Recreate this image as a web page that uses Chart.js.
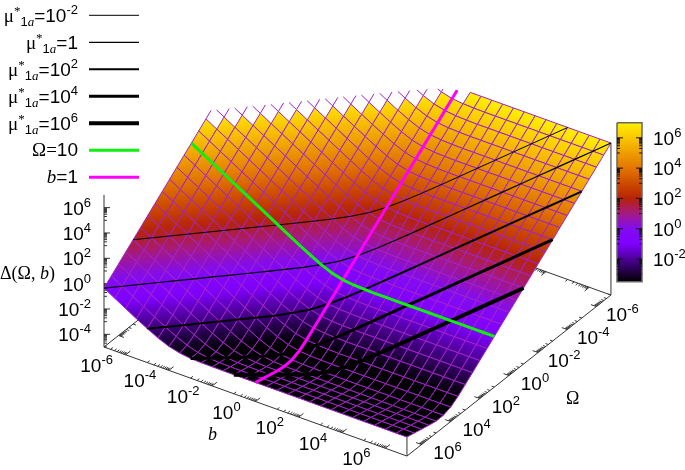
<!DOCTYPE html>
<html>
<head>
<meta charset="utf-8">
<title>Delta surface</title>
<script src="https://cdn.jsdelivr.net/npm/chart.js@4"></script>
<style>
  html, body { margin: 0; background: #fff; }
  canvas { display: block; }
</style>
</head>
<body>
<canvas id="surface" width="685" height="470"></canvas>
<script>
//DATA, everything in log10
const bGrid = [-7,-6.5,-6,-5.5,-5,-4.5,-4,-3.5,-3,-2.5,-2,-1.5,-1,-0.5,0,0.5,1,1.5,2,2.5,3,3.5,4,4.5,5,5.5,6,6.5,7];
const omegaGrid = [-7,-6.5,-6,-5.5,-5,-4.5,-4,-3.5,-3,-2.5,-2,-1.5,-1,-0.5,0,0.5,1,1.5,2,2.5,3,3.5,4,4.5,5,5.5,6,6.5,7];
const _ = null; // above the top of the z range
// one row per b, one column per omega
const flatRow = [7,6.5,6,5.5,5,4.5,4,3.5,3,2.5,2,1.5,1,.5,0,-.5,-1,-1.5,-2,-2.5,-2.99,-3.47,-3.86,-4.05,-4.06,-3.93,-3.79,-3.64,-3.5];
const deltaRows = [
  [_,_,_,_,_,_,_,_,_,_,_,_,_,7.15,6.65,6.15,5.65,5.15,4.65,4.15,3.65,3.15,2.65,2.15,1.65,1.15,.65,.15,-.35],
  [_,_,_,_,_,_,_,_,_,_,_,_,7.15,6.65,6.15,5.65,5.15,4.65,4.15,3.65,3.15,2.65,2.15,1.65,1.15,.65,.15,-.35,-.85],
  [_,_,_,_,_,_,_,_,_,_,_,7.15,6.65,6.15,5.65,5.15,4.65,4.15,3.65,3.15,2.65,2.15,1.65,1.15,.65,.15,-.35,-.85,-1.35],
  [_,_,_,_,_,_,_,_,_,_,7.15,6.65,6.15,5.65,5.15,4.65,4.15,3.65,3.15,2.65,2.15,1.65,1.15,.65,.15,-.35,-.85,-1.35,-1.85],
  [_,_,_,_,_,_,_,_,_,7.15,6.65,6.15,5.65,5.15,4.65,4.15,3.65,3.15,2.65,2.15,1.65,1.15,.65,.15,-.35,-.85,-1.35,-1.85,-2.32],
  [_,_,_,_,_,_,_,_,7.15,6.65,6.15,5.65,5.15,4.65,4.15,3.65,3.15,2.65,2.15,1.65,1.15,.65,.15,-.35,-.85,-1.35,-1.85,-2.33,-2.76],
  [_,_,_,_,_,_,_,7.15,6.65,6.15,5.65,5.15,4.65,4.15,3.65,3.15,2.65,2.15,1.65,1.15,.65,.15,-.35,-.85,-1.35,-1.85,-2.34,-2.79,-3.11],
  [_,_,_,_,_,_,7.15,6.65,6.15,5.65,5.15,4.65,4.15,3.65,3.15,2.65,2.15,1.65,1.15,.65,.15,-.35,-.85,-1.35,-1.85,-2.34,-2.8,-3.16,-3.33],
  [_,_,_,_,_,7.15,6.65,6.15,5.65,5.15,4.65,4.15,3.65,3.15,2.65,2.15,1.65,1.15,.65,.15,-.35,-.85,-1.35,-1.85,-2.34,-2.82,-3.22,-3.43,-3.45],
  [_,_,_,_,7.15,6.65,6.15,5.65,5.15,4.65,4.15,3.65,3.15,2.65,2.15,1.65,1.15,.65,.15,-.35,-.85,-1.35,-1.85,-2.34,-2.83,-3.25,-3.52,-3.57,-3.48],
  [_,_,_,7.16,6.66,6.16,5.66,5.16,4.66,4.16,3.66,3.16,2.66,2.16,1.66,1.16,.66,.16,-.34,-.84,-1.34,-1.84,-2.34,-2.82,-3.27,-3.58,-3.69,-3.62,-3.49],
  [_,_,7.18,6.68,6.18,5.68,5.18,4.68,4.18,3.68,3.18,2.68,2.18,1.68,1.18,.68,.18,-.32,-.82,-1.32,-1.82,-2.32,-2.81,-3.27,-3.62,-3.79,-3.76,-3.64,-3.5],
  [_,7.24,6.74,6.24,5.74,5.24,4.74,4.24,3.74,3.24,2.74,2.24,1.74,1.24,.74,.24,-.26,-.76,-1.26,-1.76,-2.26,-2.76,-3.23,-3.64,-3.86,-3.89,-3.78,-3.64,-3.5],
  [7.38,6.88,6.38,5.88,5.38,4.88,4.38,3.88,3.38,2.88,2.38,1.88,1.38,.88,.38,-.12,-.62,-1.12,-1.62,-2.12,-2.62,-3.11,-3.55,-3.87,-3.99,-3.92,-3.79,-3.64,-3.5],
  [7.16,6.66,6.16,5.66,5.16,4.66,4.16,3.66,3.16,2.66,2.16,1.66,1.16,.66,.16,-.34,-.84,-1.34,-1.84,-2.34,-2.83,-3.31,-3.74,-3.98,-4.03,-3.93,-3.79,-3.64,-3.5],
  [7,6.56,6.06,5.56,5.06,4.56,4.06,3.56,3.06,2.56,2.06,1.56,1.06,.56,.06,-.44,-.94,-1.44,-1.94,-2.44,-2.93,-3.41,-3.81,-4.03,-4.05,-3.93,-3.79,-3.64,-3.5],
  [7,6.52,6.02,5.52,5.02,4.52,4.02,3.52,3.02,2.52,2.02,1.52,1.02,.52,.02,-.48,-.98,-1.48,-1.98,-2.48,-2.97,-3.45,-3.84,-4.04,-4.05,-3.93,-3.79,-3.64,-3.5],
  flatRow, flatRow, flatRow, flatRow, flatRow, flatRow, flatRow, flatRow, flatRow, flatRow, flatRow, flatRow
];
const muExponents = [-2, 0, 2, 4, 6]; // omega * b = mu, so omega + b in log10
const muWidths = [1, 1.2, 2, 3, 4];
const omegaCut = 1;
const bCut = 0;
const bTicks = [-6, -4, -2, 0, 2, 4, 6];
const omegaTicks = [-6, -4, -2, 0, 2, 4, 6];
const zTicks = [-4, -2, 0, 2, 4, 6];
const cbTicks = [-2, 0, 2, 4, 6];
const minorFractions = [0.1, 0.2, 0.3, 0.4, 0.5, 0.6, 0.7, 0.8, 0.9];
const paletteZ = [-3.5, -1, 0, 1, 2, 3, 4, 6, 7];
const paletteRGB = [[0,0,0],[128,0,255],[130,12,240],[165,25,130],[182,35,8],[205,75,0],[226,118,0],[250,198,0],[255,240,0]];

const zMin = -5, zMax = 7, rangeLo = -7, rangeHi = 7;
const meshColor = '#a020c8';
const axisColor = '#333333';
const SANS = '"Liberation Sans"', SERIF = '"Liberation Serif"';

//PROJECTION, view of the 3d box onto the page
function project(b, omega, z) {
  const db = b - rangeLo, dw = rangeHi - omega, dz = z - zMin;
  return { x: 104 + db * 21.64 + dw * 14.57, y: 347 + db * 7.79 - dw * 11.5 - dz * 12.67 };
}
const GAP = { x: NaN, y: NaN };

function paletteColor(z) {
  if (z <= paletteZ[0]) return 'rgb(0,0,0)';
  let k = 1;
  while (k < paletteZ.length - 1 && z > paletteZ[k]) k++;
  const t = Math.min(1, (z - paletteZ[k - 1]) / (paletteZ[k] - paletteZ[k - 1]));
  const c = paletteRGB[k - 1].map((v, n) => Math.round(v + (paletteRGB[k][n] - v) * t));
  return 'rgb(' + c.join(',') + ')';
}

const ctx = document.getElementById('surface').getContext('2d');
const marks = []; // back to front

function lineMark(data, color, width) {
  marks.push({ data: data, showLine: true, fill: false, borderColor: color, borderWidth: width, pointRadius: 0, spanGaps: false, borderJoinStyle: 'round' });
}

//AXES of the box
function boxAxes() {
  const corner = (b, w, z) => project(b, w, z);
  lineMark([corner(-7, 7, -5), corner(7, 7, -5), corner(7, -7, -5), corner(-7, -7, -5), corner(-7, 7, -5)], axisColor, 1);
  lineMark([corner(-7, 7, -5), corner(-7, 7, 7), GAP, corner(7, -7, -5), corner(7, -7, 7), GAP, corner(7, 7, -5), corner(7, 7, -3.5)], axisColor, 1);

  const ticks = [];
  function addTicks(list, at, lenMajor) {
    list.forEach(function (m) {
      [1].concat(minorFractions).forEach(function (f, n) {
        const v = m + Math.log10(f);
        at(v, n === 0 ? lenMajor : lenMajor / 2);
      });
    });
  }
  addTicks(bTicks, function (v, len) {
    if (v < rangeLo) return;
    ticks.push(project(v, 7, -5), project(v, 7 - len, -5), GAP);
    ticks.push(project(v, -7, -5), project(v, -7 + len, -5), GAP);
  }, 0.32);
  addTicks(omegaTicks, function (v, len) {
    if (v < rangeLo) return;
    ticks.push(project(7, v, -5), project(7 - len, v, -5), GAP);
    ticks.push(project(-7, v, -5), project(-7 + len, v, -5), GAP);
  }, 0.25);
  addTicks(zTicks, function (v, len) {
    const p = project(-7, 7, v);
    ticks.push(p, { x: p.x + len * 20, y: p.y }, GAP);
  }, 0.3);
  lineMark(ticks, axisColor, 1);
}

//SURFACE
function cellGradient(p, z) {
  // z is close to a plane inside one cell, so fill along its steepest direction
  const e1 = { x: (p[1].x + p[2].x - p[0].x - p[3].x) / 2, y: (p[1].y + p[2].y - p[0].y - p[3].y) / 2 };
  const e2 = { x: (p[3].x + p[2].x - p[0].x - p[1].x) / 2, y: (p[3].y + p[2].y - p[0].y - p[1].y) / 2 };
  const d1 = (z[1] + z[2] - z[0] - z[3]) / 2, d2 = (z[3] + z[2] - z[0] - z[1]) / 2;
  const det = e1.x * e2.y - e1.y * e2.x;
  const gx = (d1 * e2.y - d2 * e1.y) / det, gy = (e1.x * d2 - e2.x * d1) / det;
  const g2 = gx * gx + gy * gy;
  const zc = (z[0] + z[1] + z[2] + z[3]) / 4;
  if (g2 < 1e-9) return paletteColor(zc);
  const cx = (p[0].x + p[1].x + p[2].x + p[3].x) / 4, cy = (p[0].y + p[1].y + p[2].y + p[3].y) / 4;
  const grad = ctx.createLinearGradient(cx - gx / g2, cy - gy / g2, cx + gx / g2, cy + gy / g2);
  for (let s = 0; s <= 8; s++) grad.addColorStop(s / 8, paletteColor(zc - 1 + s / 4));
  return grad;
}

function surfaceMarks() {
  // mesh lines that run out through the top of the box stop at zMax
  const ears = [];
  function ear(b1, w1, z1, b2, w2, z2) {
    if (z1 === null || z2 === null) return;
    if ((z1 > zMax) === (z2 > zMax)) return;
    const t = (zMax - z1) / (z2 - z1);
    const inside = z1 <= zMax ? project(b1, w1, z1) : project(b2, w2, z2);
    ears.push(inside, project(b1 + (b2 - b1) * t, w1 + (w2 - w1) * t, zMax), GAP);
  }
  bGrid.forEach(function (b, i) {
    omegaGrid.forEach(function (w, j) {
      const z = deltaRows[i][j];
      if (i + 1 < bGrid.length) ear(b, w, z, bGrid[i + 1], w, deltaRows[i + 1][j]);
      if (j + 1 < omegaGrid.length) ear(b, w, z, b, omegaGrid[j + 1], deltaRows[i][j + 1]);
    });
  });
  lineMark(ears, meshColor, 1);

  // only cells with all corners inside the range get painted
  for (let i = 0; i + 1 < bGrid.length; i++) {
    for (let j = 0; j + 1 < omegaGrid.length; j++) {
      const z = [deltaRows[i][j], deltaRows[i + 1][j], deltaRows[i + 1][j + 1], deltaRows[i][j + 1]];
      if (z.some(v => v === null || v > zMax)) continue;
      const p = [project(bGrid[i], omegaGrid[j], z[0]), project(bGrid[i + 1], omegaGrid[j], z[1]),
                 project(bGrid[i + 1], omegaGrid[j + 1], z[2]), project(bGrid[i], omegaGrid[j + 1], z[3])];
      marks.push({ data: p.concat([p[0]]), showLine: true, fill: 'shape', backgroundColor: cellGradient(p, z),
                   borderColor: meshColor, borderWidth: 1, pointRadius: 0 });
    }
  }
}

//CURVES on the surface
function clippedCurve(nodes) {
  const out = [];
  nodes.forEach(function (n, k) {
    if (n.z === null) return;
    const prev = nodes[k - 1];
    if (n.z <= zMax) {
      if (prev && prev.z !== null && prev.z > zMax) {
        const t = (zMax - n.z) / (prev.z - n.z);
        out.push(project(n.b + (prev.b - n.b) * t, n.w + (prev.w - n.w) * t, zMax));
      }
      out.push(project(n.b, n.w, n.z));
    }
  });
  return out;
}

function curveMarks() {
  muExponents.forEach(function (mu, k) {
    const nodes = [];
    bGrid.forEach(function (b, i) {
      const j = omegaGrid.indexOf(mu - b);
      if (j >= 0) nodes.push({ b: b, w: omegaGrid[j], z: deltaRows[i][j] });
    });
    lineMark(clippedCurve(nodes), '#000000', muWidths[k]);
  });
  const iCut = bGrid.indexOf(bCut), jCut = omegaGrid.indexOf(omegaCut);
  lineMark(clippedCurve(omegaGrid.map((w, j) => ({ b: bCut, w: w, z: deltaRows[iCut][j] }))), '#ff00ff', 3);
  lineMark(clippedCurve(bGrid.map((b, i) => ({ b: b, w: omegaCut, z: deltaRows[i][jCut] }))), '#11ee11', 3);
}

//COLORBAR
const cb = { left: 617, right: 642, top: 122.7, bottom: 281.7, lo: -3.5, hi: 7 };
const cbY = z => cb.bottom - (z - cb.lo) / (cb.hi - cb.lo) * (cb.bottom - cb.top);

function colorbarMarks() {
  const grad = ctx.createLinearGradient(0, cb.bottom, 0, cb.top);
  for (let s = 0; s <= 42; s++) grad.addColorStop(s / 42, paletteColor(cb.lo + s * 0.25));
  marks.push({ data: [{ x: cb.left, y: cb.top }, { x: cb.right, y: cb.top }, { x: cb.right, y: cb.bottom }, { x: cb.left, y: cb.bottom }, { x: cb.left, y: cb.top }],
               showLine: true, fill: 'shape', backgroundColor: grad, borderColor: '#666666', borderWidth: 1.5, pointRadius: 0 });
  const ticks = [];
  cbTicks.forEach(function (m) {
    [1].concat(minorFractions).forEach(function (f, n) {
      const y = cbY(m + Math.log10(f));
      const len = n === 0 ? 6 : 3;
      ticks.push({ x: cb.left, y: y }, { x: cb.left + len, y: y }, GAP, { x: cb.right, y: y }, { x: cb.right - len, y: y }, GAP);
    });
  });
  lineMark(ticks, '#111111', 1);
}

//LEGEND samples
const legendRows = [15.3, 42.3, 69.3, 96.3, 123.3, 150.3, 177.3];
function legendMarks() {
  const sample = y => [{ x: 89, y: y }, { x: 139, y: y }];
  muExponents.forEach((mu, k) => lineMark(sample(legendRows[k]), '#000000', muWidths[k]));
  lineMark(sample(legendRows[5]), '#11ee11', 3);
  lineMark(sample(legendRows[6]), '#ff00ff', 3);
}

boxAxes();
surfaceMarks();
curveMarks();
colorbarMarks();
legendMarks();

//TEXT
const big = 19, small = 13;
const sans = size => size + 'px ' + SANS;
const serif = size => size + 'px ' + SERIF;
const italic = size => 'italic ' + size + 'px ' + SERIF;

function drawRuns(c, runs, x, y, align) {
  let width = 0;
  runs.forEach(function (r) { c.font = r[1]; width += c.measureText(r[0]).width; });
  let pos = align === 'right' ? x - width : align === 'center' ? x - width / 2 : x;
  runs.forEach(function (r) {
    c.font = r[1];
    c.fillText(r[0], pos, y + (r[2] || 0));
    pos += c.measureText(r[0]).width;
  });
}
const power = e => [['10', sans(big)], [String(e), sans(small), -8]];

const textPlugin = {
  id: 'textPlugin',
  afterDraw: function (chart) {
    const c = chart.ctx, sx = chart.scales.x, sy = chart.scales.y;
    const at = p => ({ x: sx.getPixelForValue(p.x), y: sy.getPixelForValue(p.y) });
    c.save();
    c.fillStyle = '#000';
    c.textBaseline = 'alphabetic';
    bTicks.forEach(function (t) {
      const p = at(project(t, 7, -5));
      drawRuns(c, power(t), p.x - 29, p.y + 17, 'center');
    });
    omegaTicks.forEach(function (t) {
      const p = at(project(7, t, -5));
      drawRuns(c, power(t), p.x + 26, p.y + 14, 'center');
    });
    zTicks.forEach(function (t) {
      const p = at(project(-7, 7, t));
      drawRuns(c, power(t), 91, p.y + 7, 'right');
    });
    cbTicks.forEach(function (t) {
      drawRuns(c, power(t), 653, sy.getPixelForValue(cbY(t)) + 7, 'left');
    });
    muExponents.forEach(function (mu, k) {
      const runs = [['\u03bc', serif(big)], ['*', serif(small), -7], ['1', sans(small), 4], ['a', italic(small), 4], ['=', sans(big)]];
      drawRuns(c, mu === 0 ? runs.concat([['1', sans(big)]]) : runs.concat(power(mu)), 78, legendRows[k] + 6.5, 'right');
    });
    drawRuns(c, [['\u03a9=', serif(big)], ['10', sans(big)]], 78, legendRows[5] + 6, 'right');
    drawRuns(c, [['b', italic(big)], ['=1', sans(big)]], 78, legendRows[6] + 6, 'right');
    drawRuns(c, [['\u0394(\u03a9, ', serif(18)], ['b', italic(18)], [')', serif(18)]], 0, 279, 'left');
    drawRuns(c, [['b', italic(18)]], 208, 440, 'left');
    drawRuns(c, [['\u03a9', serif(18)]], 566, 404, 'left');
    c.restore();
  }
};

//CHART, first dataset ends up on top
new Chart(ctx, {
  type: 'scatter',
  data: { datasets: marks.slice().reverse() },
  options: {
    responsive: false,
    animation: false,
    events: [],
    layout: { padding: 0 },
    plugins: { legend: { display: false }, tooltip: { enabled: false } },
    scales: {
      x: { type: 'linear', min: 0, max: 685, display: false },
      y: { type: 'linear', min: 0, max: 470, reverse: true, display: false }
    }
  },
  plugins: [textPlugin]
});
</script>
</body>
</html>
